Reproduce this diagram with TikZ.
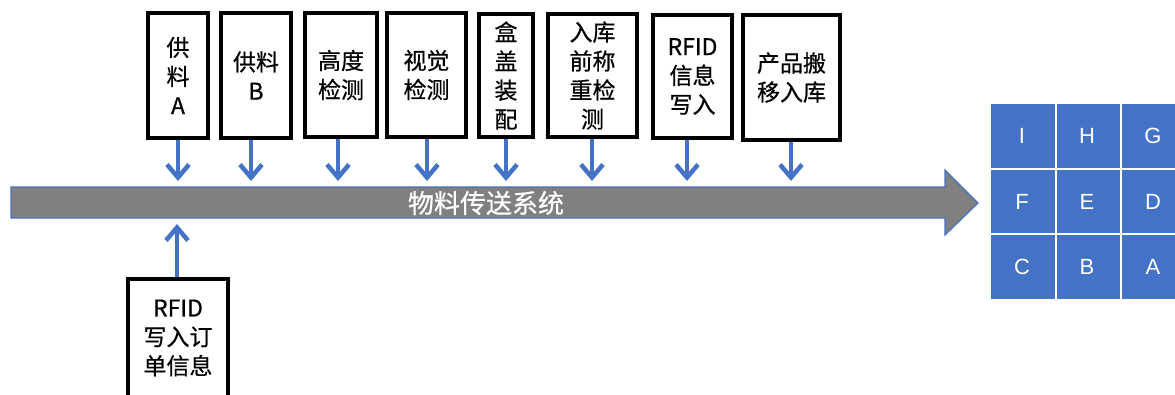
\documentclass[tikz,border=0pt]{standalone}
\usepackage{fontspec}
\newfontfamily\cjk[FakeBold=0.6]{Noto Sans CJK SC}
\newfontfamily\lat{Liberation Sans}
\usetikzlibrary{arrows.meta,shapes.arrows}
\definecolor{pblue}{HTML}{4472C4}
\definecolor{pgray}{HTML}{808080}
\begin{document}
\begin{tikzpicture}[x=1pt,y=-1pt,
  stbox/.style={draw=black,line width=3.6pt,fill=white,align=center,inner sep=0pt,
    font=\cjk\fontsize{23}{29}\selectfont},
  feed/.style={draw=pblue,line width=4.5pt,-{Straight Barb[length=13pt,width=22pt,line width=4.5pt]}},
  cell/.style={fill=pblue,draw=white,line width=2pt},
  lett/.style={text=white,font=\lat\fontsize{22}{22}\selectfont}]
\useasboundingbox (0,0) rectangle (1175,394);
% main arrow
\draw[fill=pgray,draw=pblue,line width=1.2pt] (11,187) -- (945,187) -- (945,170) -- (978,203) -- (945,235) -- (945,218) -- (11,218) -- cycle;
\node[text=white,font=\cjk\fontsize{26}{26}\selectfont] (main) at (486,203) {物料传送系统};
% top boxes
\node[stbox,minimum width=60pt,minimum height=125pt] (b1) at (178,75.5) {供\\料\\A};
\node[stbox,minimum width=70pt,minimum height=125pt] (b2) at (256,75.5) {供料\\B};
\node[stbox,minimum width=72pt,minimum height=124pt] (b3) at (341,75) {高度\\检测};
\node[stbox,minimum width=79pt,minimum height=124pt] (b4) at (426.5,75) {视觉\\检测};
\node[stbox,minimum width=54pt,minimum height=123pt] (b5) at (506,75.5) {盒\\盖\\装\\配};
\node[stbox,minimum width=89pt,minimum height=123pt] (b6) at (592.5,75.5) {入库\\前称\\重检\\测};
\node[stbox,minimum width=79pt,minimum height=123pt] (b7) at (692.5,76.5) {RFID\\信息\\写入};
\node[stbox,minimum width=97pt,minimum height=125pt] (b8) at (791.5,77.5) {产品搬\\移入库};
% bottom box
\node[stbox,minimum width=100pt,minimum height=130pt,anchor=north] (b0) at (178,277) {};
\node[align=center,font=\cjk\fontsize{23}{29}\selectfont] (b0t) at (178,338) {RFID\\写入订\\单信息};
% feed arrows
\coordinate (t1) at (178,181); \coordinate (t2) at (251,181); \coordinate (t3) at (338,181);
\coordinate (t4) at (427,181); \coordinate (t5) at (506,181); \coordinate (t6) at (592,181);
\coordinate (t7) at (687,181); \coordinate (t8) at (791,181); \coordinate (t0) at (177,224);
\draw[feed] (b1.south -| t1) -- (t1);
\draw[feed] (b2.south -| t2) -- (t2);
\draw[feed] (b3.south -| t3) -- (t3);
\draw[feed] (b4.south -| t4) -- (t4);
\draw[feed] (b5.south -| t5) -- (t5);
\draw[feed] (b6.south -| t6) -- (t6);
\draw[feed] (b7.south -| t7) -- (t7);
\draw[feed] (b8.south -| t8) -- (t8);
\draw[feed] (b0.north -| t0) -- (t0);
% grid
\foreach \r/\y in {0/103,1/168.5,2/234}{
  \draw[cell] (990,\y) rectangle (1055.5,\y+65.5);
  \draw[cell] (1055.5,\y) rectangle (1121,\y+65.5);
  \draw[cell] (1121,\y) rectangle (1187,\y+65.5);
}
\node[lett] (gI) at (1022,136) {I}; \node[lett] (gH) at (1087,136) {H}; \node[lett] (gG) at (1153,136) {G};
\node[lett] (gF) at (1022,202) {F}; \node[lett] (gE) at (1087,202) {E}; \node[lett] (gD) at (1153,202) {D};
\node[lett] (gC) at (1022,267) {C}; \node[lett] (gB) at (1087,267) {B}; \node[lett] (gA) at (1153,267) {A};
\end{tikzpicture}
\end{document}
